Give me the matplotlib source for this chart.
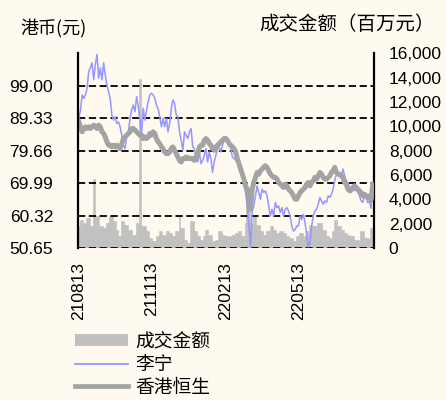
import numpy as np
import matplotlib
matplotlib.use("Agg")
import matplotlib.pyplot as plt
from matplotlib.ticker import FuncFormatter
from matplotlib.patches import Patch
from matplotlib.lines import Line2D

# Li Ning close price (HKD), sampled across 210813 - 220812
lining = [
    89.3, 91.8, 96.3, 95.3, 96.3, 98.3, 103.4, 104.4, 105.9, 100.8,
    105.4, 108.4, 101.3, 104.4, 100.8, 105.9, 102.3, 99.3, 97.3, 95.3,
    90.3, 88.8, 89.8, 87.8, 88.3, 86.8, 84.3, 81.3, 80.3, 84.3,
    85.3, 89.3, 91.8, 93.3, 91.3, 95.8, 92.8, 88.8, 84.8, 92.3,
    88.8, 91.8, 94.3,
    96.3, 96.8, 96.3, 95.3, 93.3, 92.3, 89.8, 86.8, 89.3, 86.8,
    89.3, 85.3, 87.8, 92.3, 94.8, 93.8, 90.3, 89.8, 85.3, 82.8,
    79.8, 85.3, 84.3, 83.3, 85.3, 86.3, 80.8, 80.3, 77.3, 76.3,
    79.3, 75.8, 76.8, 78.3, 80.3, 76.3, 79.3, 77.3, 73.2, 76.3,
    78.3, 80.3, 80.8, 79.3, 81.3, 82.8,
    83.3, 82.8, 82.3, 80.3, 77.8, 77.3, 76.8, 78.3, 75.8, 75.2,
    72.2, 69.2, 67.2, 63.2, 57.2, 51.0, 61.7, 63.2, 66.2, 69.2,
    67.2, 65.2, 68.2, 67.2, 67.7, 66.2, 63.2, 60.2, 62.2, 60.2,
    64.2, 62.7, 63.2, 61.2, 62.7, 60.2, 62.2, 62.7, 61.7, 60.2,
    57.2, 55.7, 56.2, 57.2, 57.2,
    60.2, 59.2, 60.7, 58.2, 54.7, 51.0, 52.2, 57.2, 60.2, 61.7,
    62.2, 63.7, 65.7, 64.7, 63.7, 64.7, 64.2, 66.2, 65.7, 66.7,
    68.2, 70.7, 72.7, 72.2, 73.2, 72.2, 74.2, 72.2, 70.7, 70.2,
    67.7, 67.2, 68.2, 67.7, 68.7, 67.2, 66.2, 64.7, 64.2, 66.2,
    65.7, 64.2, 64.7, 62.5, 70.0,
]

# Hang Seng index rescaled to the price axis
hsi = [
    88.3, 86.8, 85.3, 86.3, 86.8, 86.3, 86.8, 86.3, 86.8, 87.3,
    86.8, 86.3, 87.3, 86.8, 85.3, 84.8, 83.8, 82.3, 81.3, 81.3,
    80.8, 81.3, 80.8, 81.3, 80.8, 80.3, 81.8, 83.3, 83.8, 84.3,
    84.8, 85.3, 86.3, 86.3, 85.8, 85.3, 84.8, 84.3, 84.3, 83.3,
    83.8, 83.3, 83.8,
    84.8, 84.3, 85.3, 84.8, 83.3, 82.3, 81.8, 80.8, 80.3, 79.3,
    78.8, 78.8, 79.3, 80.3, 80.8, 79.8, 78.8, 77.8, 76.8, 76.3,
    77.3, 77.3, 77.8, 77.3, 77.5, 77.3, 77.3, 76.8, 77.8, 78.8,
    80.8, 81.3, 81.3, 82.8, 83.3, 82.8, 81.8, 81.3, 80.3, 79.8,
    80.8, 81.3, 81.8, 82.3, 82.8, 83.3,
    83.3, 82.8, 81.8, 81.3, 80.8, 80.3, 79.3, 77.3, 75.8, 74.2,
    72.7, 71.2, 69.2, 68.2, 65.2, 62.2, 68.2, 70.2, 71.7, 73.2,
    72.7, 73.7, 74.2, 74.7, 75.2, 74.7, 73.7, 72.7, 72.2, 71.7,
    71.7, 71.2, 70.2, 69.7, 69.2, 68.7, 69.7, 69.2, 68.2, 67.7,
    67.2, 66.2, 65.2, 65.2, 66.2,
    67.2, 67.7, 68.2, 68.7, 69.7, 70.2, 69.2, 70.2, 70.7, 71.7,
    71.2, 72.2, 73.2, 72.7, 71.7, 71.2, 71.2, 71.7, 72.2, 73.2,
    73.7, 74.7, 73.2, 72.7, 72.5, 72.2, 71.7, 70.2, 69.7, 68.2,
    67.7, 68.2, 68.7, 69.2, 68.7, 68.2, 67.7, 67.2, 66.2, 66.7,
    66.2, 65.7, 66.2, 65.0, 69.5,
]

# turnover, million HKD
turnover = [
    1790, 2340, 2340, 2070, 2070, 2480, 2480, 1790, 1790, 5650,
    2620, 2620, 2620, 1790, 1790, 1650, 1650, 2070, 2070, 2620,
    2620, 2200, 2200, 1520, 960, 960, 2200, 2200, 1930, 1930,
    1520, 1520, 1520, 1100, 1100, 2070, 2070, 13900, 1790, 1790,
    1790, 1380, 1380,
    830, 830, 550, 550, 960, 960, 1380, 1380, 1100, 1100,
    1380, 1380, 1240, 1240, 960, 960, 1380, 1380, 2750, 1650,
    1650, 690, 690, 410, 410, 2200, 2200, 1380, 1380, 960,
    960, 690, 690, 960, 1520, 1520, 1100, 1100, 550, 550,
    690, 690, 1380, 1380, 1100, 1100,
    960, 960, 960, 960, 1100, 1100, 1240, 1240, 1380, 1380,
    960, 960, 2070, 4000, 4000, 2070, 2070, 2620, 2620, 1930,
    1930, 1380, 1380, 1100, 1100, 1380, 1380, 1790, 1790, 1520,
    1520, 1240, 1240, 1380, 1380, 1240, 1240, 960, 960, 830,
    830, 550, 550, 960, 960,
    1240, 1240, 960, 960, 1380, 1380, 1930, 1930, 1790, 1790,
    1790, 2070, 2070, 2070, 1520, 1520, 960, 960, 830, 830,
    1380, 2340, 2340, 1790, 1790, 1520, 1520, 1240, 1240, 1100,
    1100, 960, 960, 690, 690, 690, 550, 1380, 1380, 830,
    830, 830, 690, 1650, 1650,
]

date_labels = ["210813", "211113", "220213", "220513"]
date_idx = [0, 44, 89, 133]

price_ticks = [50.65, 60.32, 69.99, 79.66, 89.33, 99.00]
price_top = 108.67
vol_ticks = list(range(0, 16001, 2000))

BG = "#FEFAF0"
NUM_FONT = "Liberation Sans"
CJK_FONT = ["Noto Sans CJK SC", "DejaVu Sans"]

x = np.arange(len(lining))

fig = plt.figure(figsize=(4.46, 4.0), dpi=100, facecolor=BG)
ax = fig.add_axes([0.1749, 0.38, 0.6626, 0.4863])
ax2 = ax.twinx()

# volume bars behind the price lines
ax2.bar(x, turnover, width=1.0, color="#C0C0C0", edgecolor="#C0C0C0", linewidth=0.4)
ax2.set_ylim(0, 16000)
ax2.set_yticks(vol_ticks)
ax2.yaxis.set_major_formatter(FuncFormatter(lambda v, p: f"{int(v):,}"))
ax2.set_facecolor(BG)

ax.set_zorder(ax2.get_zorder() + 1)
ax.patch.set_visible(False)

ax.plot(x, lining, color="#9696FF", lw=1.1)
ax.plot(x, hsi, color="#A3A3A3", lw=3.6, solid_joinstyle="round")
ax.set_ylim(price_ticks[0], price_top)
ax.set_yticks(price_ticks)
ax.yaxis.set_major_formatter(FuncFormatter(lambda v, p: f"{v:.2f}"))
ax.set_xlim(-0.5, len(x) - 0.5)
ax.set_xticks(date_idx)
ax.set_xticklabels(date_labels, rotation=90)

ax.yaxis.grid(True, color="black", linestyle=(0, (4, 2)), linewidth=1.3)
ax.set_axisbelow(True)

for a in (ax, ax2):
    a.spines["top"].set_visible(False)
    a.spines["bottom"].set_visible(False)
ax.spines["right"].set_visible(False)
ax2.spines["left"].set_visible(False)
ax.spines["left"].set_linewidth(1.6)
ax2.spines["right"].set_linewidth(1.6)

ax.tick_params(axis="y", length=0, pad=18, labelsize=12.5)
ax.tick_params(axis="x", length=0, pad=10, labelsize=12.5)
ax2.tick_params(axis="y", length=0, pad=11, labelsize=12.5)
for lab in ax.get_yticklabels() + ax.get_xticklabels() + ax2.get_yticklabels():
    lab.set_fontfamily(NUM_FONT)

fig.text(20 / 446, 1 - 28 / 400, "港币(元)", family=CJK_FONT, fontsize=13,
         ha="left", va="center")
fig.text(259 / 446, 1 - 25 / 400, "成交金额（百万元）", family=CJK_FONT,
         fontsize=14, ha="left", va="center")

handles = [
    Patch(facecolor="#C0C0C0", edgecolor="none"),
    Line2D([0], [0], color="#9696FF", lw=1.3),
    Line2D([0], [0], color="#A3A3A3", lw=3.4),
]
labels = ["成交金额", "李宁", "香港恒生"]
fig.legend(handles, labels, loc="upper left", bbox_to_anchor=(75 / 446, 1 - 331 / 400),
           frameon=False, prop={"family": CJK_FONT, "size": 13.5},
           borderpad=0, borderaxespad=0, handlelength=2.85, handleheight=0.6,
           handletextpad=0.35, labelspacing=0.1)

fig.savefig("out.png", dpi=100, facecolor=BG)
